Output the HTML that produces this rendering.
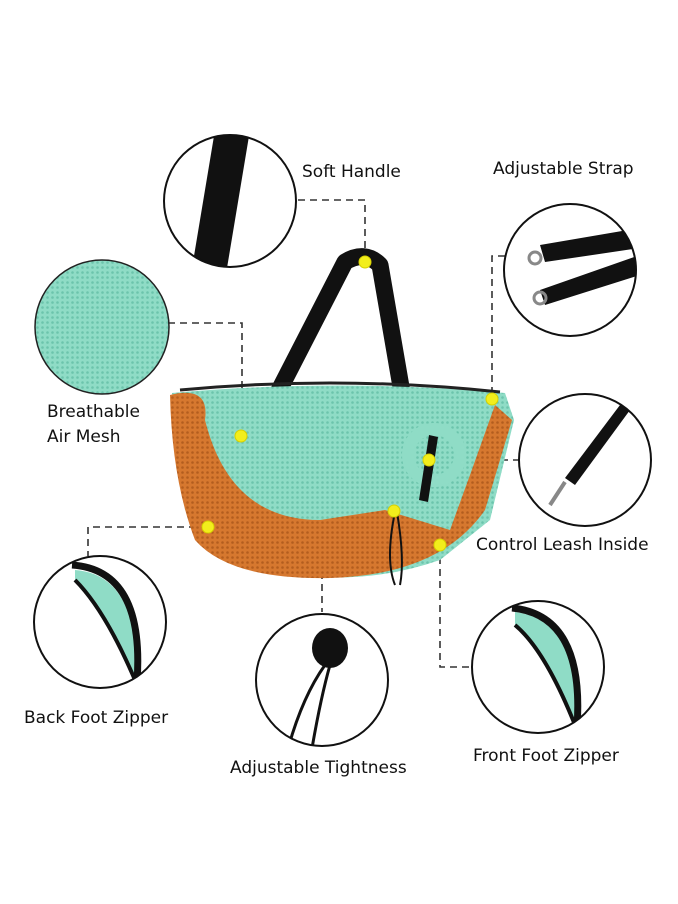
<!DOCTYPE html>
<html><head><meta charset="utf-8"><style>
html,body{margin:0;padding:0;background:#fff;}
svg{display:block}
text{font-family:"DejaVu Sans","Liberation Sans",sans-serif;font-size:17px;fill:#111;}
</style></head><body>
<svg width="678" height="904" viewBox="0 0 678 904" xmlns="http://www.w3.org/2000/svg">
<defs>
<pattern id="mint" width="5" height="5" patternUnits="userSpaceOnUse"><rect width="5" height="5" fill="#8fdcc6"/><circle cx="2.5" cy="2.5" r="1.3" fill="#6cc4ac"/></pattern>
<pattern id="orng" width="5" height="5" patternUnits="userSpaceOnUse"><rect width="5" height="5" fill="#d6782f"/><circle cx="2.5" cy="2.5" r="1.3" fill="#b35d1e"/></pattern>
<clipPath id="c1"><circle cx="230" cy="201" r="66"/></clipPath>
<clipPath id="c2"><circle cx="570" cy="270" r="66"/></clipPath>
<clipPath id="c4"><circle cx="585" cy="460" r="66"/></clipPath>
<clipPath id="c5"><circle cx="100" cy="622" r="66"/></clipPath>
<clipPath id="c6"><circle cx="322" cy="680" r="66"/></clipPath>
<clipPath id="c7"><circle cx="538" cy="667" r="66"/></clipPath>
</defs>
<g stroke="#333" stroke-width="1.6" stroke-dasharray="7,5" fill="none">
<path d="M298 200 H365 V262"/>
<path d="M505 256 H492 V399"/>
<path d="M168 323 H242 V436"/>
<path d="M429 460 H520"/>
<path d="M208 527 H88 V556"/>
<path d="M394 512 H322 V612"/>
<path d="M440 545 V667 H472"/>
</g>
<g clip-path="url(#c1)"><path d="M215 130 L250 130 L225 280 L190 280Z" fill="#111"/></g>
<circle cx="230" cy="201" r="66" fill="none" stroke="#111" stroke-width="2"/>
<g clip-path="url(#c2)"><path d="M540 245 L640 228 L640 248 L545 262Z M540 290 L640 255 L640 275 L545 305Z" fill="#111"/><circle cx="535" cy="258" r="6" fill="none" stroke="#888" stroke-width="3"/><circle cx="540" cy="298" r="6" fill="none" stroke="#888" stroke-width="3"/></g>
<circle cx="570" cy="270" r="66" fill="none" stroke="#111" stroke-width="2"/>
<circle cx="102" cy="327" r="67" fill="url(#mint)" stroke="#222" stroke-width="1.5"/>
<g clip-path="url(#c4)"><path d="M620 405 L630 410 L575 485 L565 478Z" fill="#111"/><path d="M565 482 L550 505" stroke="#888" stroke-width="4"/></g>
<circle cx="585" cy="460" r="66" fill="none" stroke="#111" stroke-width="2"/>
<g clip-path="url(#c5)"><path d="M75 570 Q140 575 135 680 Q105 610 75 580Z" fill="#8fdcc6"/><path d="M72 565 Q145 570 137 682" fill="none" stroke="#111" stroke-width="7"/><path d="M75 580 Q105 610 135 680" fill="none" stroke="#111" stroke-width="4"/></g>
<circle cx="100" cy="622" r="66" fill="none" stroke="#111" stroke-width="2"/>
<g clip-path="url(#c6)"><path d="M325 665 Q300 700 285 760 M330 665 Q320 700 310 760" stroke="#111" stroke-width="3" fill="none"/><ellipse cx="330" cy="648" rx="18" ry="20" fill="#111"/></g>
<circle cx="322" cy="680" r="66" fill="none" stroke="#111" stroke-width="2"/>
<g clip-path="url(#c7)"><path d="M515 612 Q580 620 575 725 Q545 650 515 625Z" fill="#8fdcc6"/><path d="M512 608 Q585 615 577 727" fill="none" stroke="#111" stroke-width="7"/><path d="M515 625 Q545 650 575 725" fill="none" stroke="#111" stroke-width="4"/></g>
<circle cx="538" cy="667" r="66" fill="none" stroke="#111" stroke-width="2"/>
<path d="M270 408 L345 262 Q365 250 380 265 L405 410" fill="none" stroke="#111" stroke-width="17" stroke-linejoin="round"/>
<path d="M172 393 Q340 378 505 393 L514 420 L490 520 L440 560 Q340 595 230 560 L185 510 Z" fill="url(#mint)"/>
<path d="M170 395 Q210 385 205 420 Q230 520 320 520 L385 510 L450 530 L470 475 L495 405 L512 420 L485 510 Q440 575 330 578 Q230 580 195 540 Q172 480 170 395Z" fill="url(#orng)"/>
<path d="M180 390 Q340 375 500 392" fill="none" stroke="#222" stroke-width="3"/>
<circle cx="434" cy="455" r="26" fill="none" stroke="#8fdcc6" stroke-width="12"/>
<path d="M429 435 L438 437 L428 502 L419 500Z" fill="#111"/>
<path d="M395 512 Q385 560 395 585 M397 512 Q405 560 400 585" stroke="#111" stroke-width="2" fill="none"/>
<g fill="#f2ee1c" stroke="#d6d000" stroke-width="1">
<circle cx="365" cy="262" r="6"/><circle cx="492" cy="399" r="6"/><circle cx="241" cy="436" r="6"/><circle cx="429" cy="460" r="6"/><circle cx="394" cy="511" r="6"/><circle cx="208" cy="527" r="6"/><circle cx="440" cy="545" r="6"/>
</g>
<text x="302" y="177">Soft Handle</text>
<text x="493" y="174">Adjustable Strap</text>
<text x="47" y="417">Breathable</text>
<text x="47" y="442">Air Mesh</text>
<text x="476" y="550">Control Leash Inside</text>
<text x="24" y="723">Back Foot Zipper</text>
<text x="230" y="773">Adjustable Tightness</text>
<text x="473" y="761">Front Foot Zipper</text>
</svg>
</body></html>
